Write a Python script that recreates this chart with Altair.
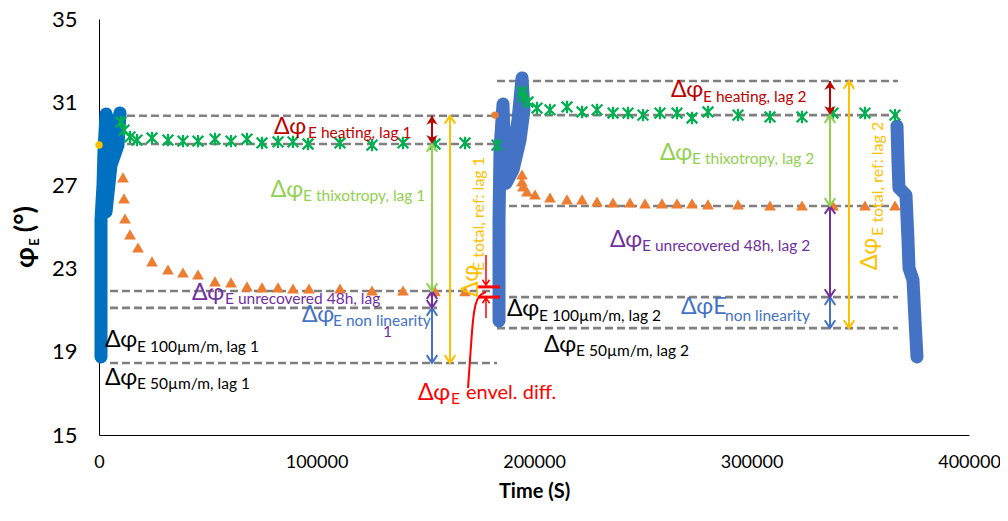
import altair as alt
import pandas as pd

FONT = "Lato, 'Noto Sans', 'DejaVu Sans', sans-serif"

X_DOMAIN = [0, 400000]
Y_DOMAIN = [15, 35]
x_ticks = [0, 100000, 200000, 300000, 400000]
y_ticks = [15, 19, 23, 27, 31, 35]

# ---- continuous blue trace (three strain-sweep segments) ----
blue1_t = [920, 920, 920, 1840, 2300, 3220, 4600, 6440, 8280, 9650, 8740, 5520, 3220]
blue1_v = [18.75, 21.49, 25.34, 27.02, 28.70, 30.43, 29.90, 29.18, 29.76, 30.48, 28.94, 27.98, 25.72]
blue2_t = [183910, 183910, 184370, 185750, 186210, 187590, 189890, 192650, 194490, 195400, 193570, 190350, 187130]
blue2_v = [20.48, 25.34, 28.70, 30.91, 29.18, 27.74, 28.46, 30.14, 32.16, 30.63, 29.18, 27.74, 27.10]
blue3_t = [366900, 367330, 367790, 371030, 371950, 372410, 374250, 375170, 376090]
blue3_v = [29.86, 28.22, 26.88, 26.54, 24.38, 23.03, 22.45, 20.53, 18.75]

# ---- green asterisks (upper envelope) ----
green_t = [10110, 11490, 14250, 17470, 24370, 31720, 38620, 45520, 53330, 60690, 68040, 74940,
           82300, 89190, 96090, 110800, 125520, 139770, 154480, 168280, 182990,
           194480, 194940, 197240, 201380, 207360, 215170, 222070, 228970, 236330, 243220,
           250120, 257930, 265750, 272650, 280010, 293800, 308510, 323220, 337470, 352180, 365970]
green_v = [30.05, 29.66, 29.33, 29.18, 29.28, 29.18, 29.13, 29.13, 29.23, 29.13, 29.23, 29.04,
           29.09, 29.09, 28.99, 29.04, 28.94, 29.04, 28.99, 29.04, 28.94,
           31.49, 31.25, 31.01, 30.72, 30.63, 30.77, 30.53, 30.63, 30.48, 30.48,
           30.38, 30.48, 30.48, 30.24, 30.53, 30.38, 30.29, 30.29, 30.48, 30.48, 30.38]

# ---- orange triangles (lower envelope) ----
orange_t = [11030, 11490, 11950, 14250, 17930, 24370, 31720, 38620, 45520, 53330, 60690, 68040,
            74940, 82300, 89190, 96550, 110800, 125520, 139770, 154480, 168280,
            194480, 194480, 194940, 196780, 200460, 207360, 215170, 222070, 228970, 236330,
            244140, 251040, 258850, 265750, 272650, 280010, 293800, 308510, 323220, 337470,
            352180, 365970]
orange_v = [27.36, 26.35, 25.38, 24.62, 23.99, 23.32, 22.93, 22.79, 22.69, 22.36, 22.31, 22.12,
            22.07, 22.07, 22.02, 22.02, 22.02, 21.92, 21.92, 21.88, 21.88,
            27.50, 27.16, 26.92, 26.68, 26.54, 26.39, 26.30, 26.30, 26.20, 26.15,
            26.15, 26.11, 26.11, 26.11, 26.11, 26.06, 26.06, 26.01, 26.01, 26.01,
            26.01, 26.01]

# single stray points
dot_t = [0, 182070]
dot_v = [28.94, 30.38]
dot_c = ["#FFC000", "#ED7D31"]

# ---- dashed reference levels ----
dash_v = [30.35, 28.99, 21.92, 21.11, 18.46, 32.02, 30.38, 26.01, 21.63, 20.14]
dash_t1 = [12870, 12870, 5060, 5060, 5060, 182990, 182990, 182990, 182990, 182990]
dash_t2 = [182070, 182070, 182990, 155400, 182990, 367350, 367350, 367350, 367350, 367350]

# ---- double arrows ----
C_HEAT, C_THIX, C_UNREC, C_NONLIN, C_TOT = "#C00000", "#92D050", "#7030A0", "#4472C4", "#FFC000"
C_BLACK, C_RED = "#000000", "#FF0000"
arrow_t = [153100, 153100, 153100, 153100, 161380, 336090, 336090, 336090, 336090, 344830]
arrow_top = [30.35, 28.99, 21.92, 21.11, 30.35, 32.02, 30.38, 26.01, 21.63, 32.02]
arrow_bot = [28.99, 21.92, 21.11, 18.46, 18.46, 30.38, 26.01, 21.63, 20.14, 20.14]
arrow_col = [C_HEAT, C_THIX, C_UNREC, C_NONLIN, C_TOT, C_HEAT, C_THIX, C_UNREC, C_NONLIN, C_TOT]
arrow_fill = [True, False, False, False, False, True, False, False, False, False]

# ---- envelope difference marker ----
env_bar_v = [22.12, 21.63]
env_bar_t1 = [174300, 174300]
env_bar_t2 = [184400, 184400]
env_arr_t = [177930, 177930]
env_arr_from = [23.65, 20.63]
env_arr_to = [22.21, 21.59]
env_curve_t = [169660, 170580, 171500, 172420, 173800, 175630, 177930]
env_curve_v = [17.26, 18.61, 20.05, 21.01, 21.54, 21.78, 21.88]

# ---- annotation texts ----
ann_text = ["Δφ", "E heating, lag 1", "Δφ", "E thixotropy, lag 1", "Δφ", "E unrecovered 48h, lag", "1",
            "Δφ", "E non linearity", "Δφ", "E 100µm/m, lag 1", "Δφ", "E 50µm/m, lag 1",
            "Δφ", "E total, ref: lag 1", "Δφ", "E", "envel. diff.",
            "Δφ", "E heating, lag 2", "Δφ", "E thixotropy, lag 2", "Δφ", "E unrecovered 48h, lag 2",
            "ΔφE", "non linearity", "Δφ", "E 100µm/m, lag 2", "Δφ", "E 50µm/m, lag 2",
            "Δφ", "E total, ref: lag 2"]
ann_t = [80460, 96090, 79000, 93800, 42760, 57930, 130570,
         93330, 107590, 2760, 17470, 2760, 17470,
         171030, 174710, 146670, 161840, 168740,
         262990, 277700, 257930, 272650, 234940, 249650,
         267590, 287820, 187590, 202300, 204600, 219310,
         354480, 358160]
ann_v = [29.81, 29.52, 26.78, 26.49, 21.83, 21.54, 19.95,
         20.77, 20.48, 19.57, 19.23, 17.74, 17.45,
         21.63, 22.88, 17.02, 16.73, 17.02,
         31.59, 31.25, 28.56, 28.27, 24.38, 24.09,
         21.15, 20.72, 21.06, 20.72, 19.33, 19.04,
         22.93, 24.57]
ann_col = [C_HEAT, C_HEAT, C_THIX, C_THIX, C_UNREC, C_UNREC, C_UNREC,
           C_NONLIN, C_NONLIN, C_BLACK, C_BLACK, C_BLACK, C_BLACK,
           C_TOT, C_TOT, C_RED, C_RED, C_RED,
           C_HEAT, C_HEAT, C_THIX, C_THIX, C_UNREC, C_UNREC,
           C_NONLIN, C_NONLIN, C_BLACK, C_BLACK, C_BLACK, C_BLACK,
           C_TOT, C_TOT]
ann_size = [23, 15.5, 23, 15.5, 23, 15.5, 15.5,
            23, 15.5, 23, 15.5, 23, 15.5,
            23, 16, 23, 15.5, 20,
            23, 15.5, 23, 15.5, 23, 15.5,
            23, 15.5, 23, 15.5, 23, 15.5,
            23, 16]
ann_angle = [0] * 13 + [270, 270] + [0] * 15 + [270, 270]

# y-axis title pieces (φE (°))
ytitle_text = ["φ", "E", "(°)"]
ytitle_t = [-33500, -29400, -33500]
ytitle_v = [23.03, 24.1, 24.75]
ytitle_size = [27, 13, 27]

# ---------------------------------------------------------------
xs = alt.Scale(domain=X_DOMAIN, nice=False, zero=False)
ys = alt.Scale(domain=Y_DOMAIN, nice=False, zero=False)

x_axis = alt.Axis(values=x_ticks, format="d", title="Time (S)", grid=False, ticks=False,
                  labelFontSize=18, labelColor="#000", labelPadding=18, labelFlush=False,
                  labelOverlap=False, titleFontSize=20, titleFontWeight="bold", titleColor="#000",
                  titlePadding=10, domainColor="#000", domainWidth=1, labelFont=FONT, titleFont=FONT)
y_axis = alt.Axis(values=y_ticks, title=None, grid=False, ticks=False, labelFontSize=22,
                  labelColor="#000", labelPadding=22, labelFlush=False, labelOverlap=False,
                  domainColor="#000", domainWidth=1, labelFont=FONT)


def X(f="t"):
    return alt.X(f"{f}:Q", scale=xs, axis=x_axis, title="Time (S)")


def Y(f="v"):
    return alt.Y(f"{f}:Q", scale=ys, axis=y_axis, title=None)


blue_rows = []
for seg, (ts, vs, col) in enumerate([(blue1_t, blue1_v, "#0070C0"),
                                     (blue2_t, blue2_v, "#4472C4"),
                                     (blue3_t, blue3_v, "#4472C4")]):
    for i, (t, v) in enumerate(zip(ts, vs)):
        blue_rows.append({"seg": seg, "o": i, "t": t, "v": v, "col": col})
blue_df = pd.DataFrame(blue_rows)

dash_df = pd.DataFrame({"t": dash_t1, "t2": dash_t2, "v": dash_v})
green_df = pd.DataFrame({"t": green_t, "v": green_v})
orange_df = pd.DataFrame({"t": orange_t, "v": orange_v})
dot_df = pd.DataFrame({"t": dot_t, "v": dot_v, "col": dot_c})
arrow_df = pd.DataFrame({"t": arrow_t, "v": arrow_top, "v2": arrow_bot, "col": arrow_col, "fill": arrow_fill})
head_up = arrow_df[["t", "v", "col", "fill"]]
head_dn = arrow_df[["t", "v2", "col", "fill"]].rename(columns={"v2": "v"})

env_bar_df = pd.DataFrame({"t": env_bar_t1, "t2": env_bar_t2, "v": env_bar_v})
env_arr_df = pd.DataFrame({"t": env_arr_t, "v": env_arr_from, "v2": env_arr_to})
env_curve_df = pd.DataFrame({"t": env_curve_t, "v": env_curve_v, "o": list(range(len(env_curve_t)))})
ann_df = pd.DataFrame({"txt": ann_text, "t": ann_t, "v": ann_v, "col": ann_col,
                       "sz": ann_size, "ang": ann_angle})
yt_df = pd.DataFrame({"txt": ytitle_text, "t": ytitle_t, "v": ytitle_v, "sz": ytitle_size})

UP_FILLED = "M0,0L1,1.6L0,1.1L-1,1.6Z"
DN_FILLED = "M0,0L1,-1.6L0,-1.1L-1,-1.6Z"
UP_OPEN = "M-1,1.5L0,0L1,1.5"
DN_OPEN = "M-1,-1.5L0,0L1,-1.5"
STAR = "M-1,-1L1,1M-1,1L1,-1M0,-1.15L0,1.15"
TRI = "M0,-1L1.05,0.8L-1.05,0.8Z"

dash = alt.Chart(dash_df).mark_rule(color="#808080", strokeWidth=2.6, strokeDash=[8, 4]).encode(
    x=X("t"), x2="t2:Q", y=Y("v"))

blue = alt.Chart(blue_df).mark_line(strokeWidth=13, strokeCap="round", strokeJoin="round").encode(
    x=X(), y=Y(), detail="seg:N", order="o:Q", color=alt.Color("col:N", scale=None))

dots = alt.Chart(dot_df).mark_circle(size=55, opacity=1).encode(
    x=X(), y=Y(), color=alt.Color("col:N", scale=None))

green = alt.Chart(green_df).mark_point(shape=STAR, filled=False, size=115, strokeWidth=2.2,
                                       color="#00B050", opacity=1).encode(x=X(), y=Y())
orange = alt.Chart(orange_df).mark_point(shape=TRI, filled=True, size=125, color="#ED7D31",
                                         opacity=1).encode(x=X(), y=Y())

shafts = alt.Chart(arrow_df).mark_rule(strokeWidth=2).encode(
    x=X(), y=Y(), y2="v2:Q", color=alt.Color("col:N", scale=None))


def heads(df, filled, path):
    sub = df[df["fill"] == filled]
    if filled:
        m = alt.Chart(sub).mark_point(shape=path, filled=True, size=130, opacity=1, strokeWidth=0)
    else:
        m = alt.Chart(sub).mark_point(shape=path, filled=False, size=110, opacity=1, strokeWidth=2)
    return m.encode(x=X(), y=Y(), color=alt.Color("col:N", scale=None))


env_bars = alt.Chart(env_bar_df).mark_rule(color=C_RED, strokeWidth=3).encode(x=X(), x2="t2:Q", y=Y())
env_arrs = alt.Chart(env_arr_df).mark_rule(color=C_RED, strokeWidth=1.5).encode(x=X(), y=Y(), y2="v2:Q")
env_heads = alt.Chart(pd.DataFrame({"t": env_arr_t, "v": env_arr_to, "k": ["dn", "up"]}))
env_head_dn = env_heads.transform_filter("datum.k == 'dn'").mark_point(
    shape=DN_OPEN, filled=False, size=50, strokeWidth=1.5, color=C_RED, opacity=1).encode(x=X(), y=Y())
env_head_up = env_heads.transform_filter("datum.k == 'up'").mark_point(
    shape=UP_OPEN, filled=False, size=50, strokeWidth=1.5, color=C_RED, opacity=1).encode(x=X(), y=Y())
env_curve = alt.Chart(env_curve_df).mark_line(color=C_RED, strokeWidth=2, interpolate="basis").encode(
    x=X(), y=Y(), order="o:Q")

ann = alt.Chart(ann_df).mark_text(font=FONT, align="left", baseline="middle").encode(
    x=X(), y=Y(), text="txt:N", color=alt.Color("col:N", scale=None),
    size=alt.Size("sz:Q", scale=None), angle=alt.Angle("ang:Q", scale=None))

ytitle = alt.Chart(yt_df).mark_text(font=FONT, fontWeight="bold", align="left", baseline="middle",
                                    angle=270, color="#000").encode(
    x=X(), y=Y(), text="txt:N", size=alt.Size("sz:Q", scale=None))

chart = alt.layer(
    dash, blue, dots, green, orange, shafts,
    heads(head_up, True, UP_FILLED), heads(head_dn, True, DN_FILLED),
    heads(head_up, False, UP_OPEN), heads(head_dn, False, DN_OPEN),
    env_curve, env_bars, env_arrs, env_head_dn, env_head_up,
    ann, ytitle,
).properties(
    width=870, height=416,
    padding={"left": 91, "top": 11, "right": 31, "bottom": 68},
    autosize=alt.AutoSizeParams(type="none"),
    background="white",
).configure_view(stroke=None)

chart.save("out.html", embed_options={"renderer": "svg", "actions": False})
